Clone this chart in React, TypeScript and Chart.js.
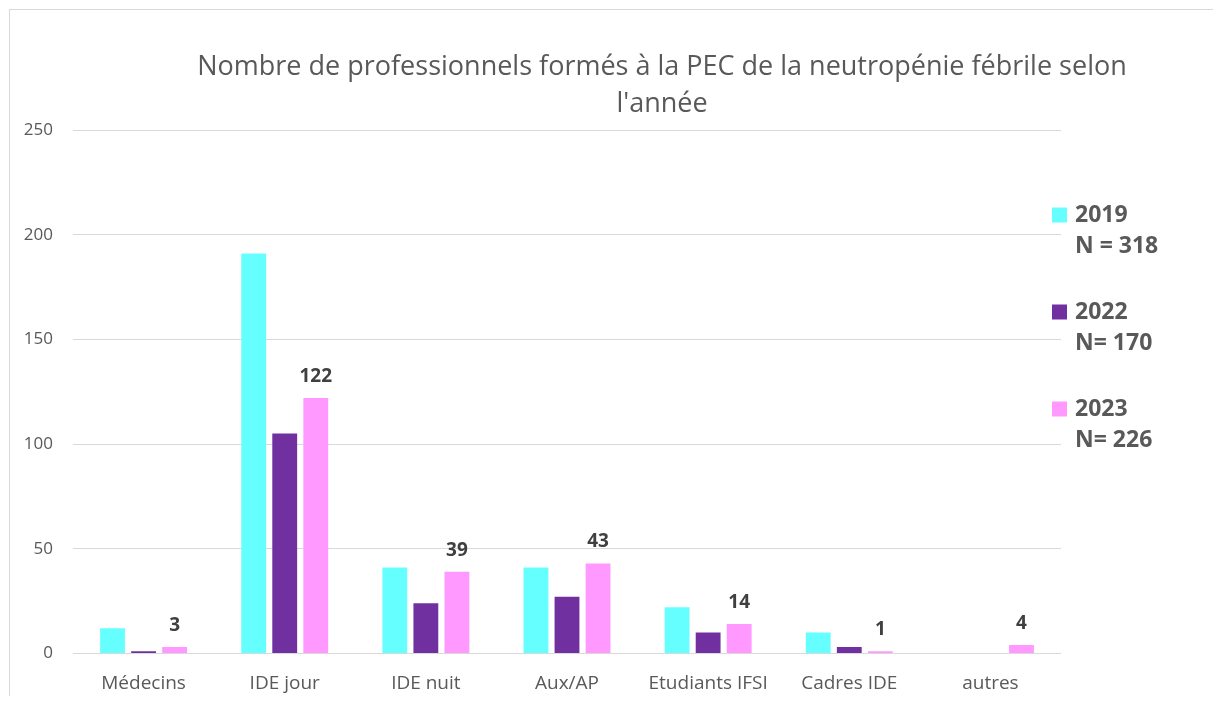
import React, { useEffect, useRef } from "react";
import { Chart, registerables } from "chart.js";

Chart.register(...registerables);

const titleLines = [
  "Nombre de professionnels formés à la PEC de la neutropénie fébrile selon",
  "l'année",
];
const categories = [
  "Médecins",
  "IDE jour",
  "IDE nuit",
  "Aux/AP",
  "Etudiants IFSI",
  "Cadres IDE",
  "autres",
];
const years = ["2019", "2022", "2023"];
const totals = ["N = 318", "N= 170", "N= 226"];
const values2019 = [12, 191, 41, 41, 22, 10, 0];
const values2022 = [1, 105, 24, 27, 10, 3, 0];
const values2023 = [3, 122, 39, 43, 14, 1, 4];
const yMin = 0;
const yMax = 250;
const yStep = 50;

const colors = ["#66FFFF", "#7030A0", "#FF99FF"];
const FONT = "'Open Sans', sans-serif";
const TEXT = "#595959";

const titlePlugin = {
  id: "customTitle",
  afterDraw(chart: any) {
    const ctx = chart.ctx;
    ctx.save();
    ctx.font = `27px ${FONT}`;
    ctx.fillStyle = TEXT;
    ctx.textAlign = "center";
    ctx.textBaseline = "middle";
    ctx.fillText(titleLines[0], 652, 57);
    ctx.fillText(titleLines[1], 652, 94);
    ctx.restore();
  },
};

const legendPlugin = {
  id: "customLegend",
  afterDraw(chart: any) {
    const ctx = chart.ctx;
    ctx.save();
    chart.data.datasets.forEach((ds: any, i: number) => {
      const cy = 205 + 97 * i;
      ctx.fillStyle = ds.backgroundColor;
      ctx.fillRect(1042, cy - 7.5, 15, 15);
      ctx.fillStyle = TEXT;
      ctx.font = `bold 23px ${FONT}`;
      ctx.textAlign = "left";
      ctx.textBaseline = "middle";
      ctx.fillText(ds.label, 1065, cy);
      ctx.fillText(totals[i], 1065, cy + 31.5);
    });
    ctx.restore();
  },
};

const valueLabelPlugin = {
  id: "valueLabels",
  afterDatasetsDraw(chart: any) {
    const ctx = chart.ctx;
    const meta = chart.getDatasetMeta(2);
    const data = chart.data.datasets[2].data;
    ctx.save();
    ctx.font = `bold 19px ${FONT}`;
    ctx.fillStyle = "#404040";
    ctx.textAlign = "center";
    ctx.textBaseline = "alphabetic";
    meta.data.forEach((el: any, i: number) => {
      ctx.fillText(String(data[i]), el.x, el.y - 16);
    });
    ctx.restore();
  },
};

export default function App() {
  const canvasRef = useRef<HTMLCanvasElement | null>(null);

  useEffect(() => {
    if (!canvasRef.current) return;
    const chart = new Chart(canvasRef.current, {
      type: "bar",
      data: {
        labels: categories,
        datasets: [
          { label: years[0], data: values2019, backgroundColor: colors[0] },
          { label: years[1], data: values2022, backgroundColor: colors[1] },
          { label: years[2], data: values2023, backgroundColor: colors[2] },
        ].map((d) => ({
          ...d,
          categoryPercentage: 0.66,
          barPercentage: 0.8,
          borderWidth: 0,
        })),
      },
      options: {
        animation: false,
        responsive: true,
        maintainAspectRatio: false,
        layout: { padding: { top: 120, right: 152, left: 0, bottom: 0 } },
        plugins: {
          legend: { display: false },
          title: { display: false },
          tooltip: { enabled: false },
        },
        scales: {
          x: {
            grid: { display: false, drawTicks: false },
            border: { display: false },
            ticks: {
              color: TEXT,
              font: { family: FONT, size: 19 },
              padding: 19,
              maxRotation: 0,
              autoSkip: false,
            },
            afterFit: (axis: any) => {
              axis.height = 42.6;
            },
          },
          y: {
            min: yMin,
            max: yMax,
            grid: { color: "#d9d9d9", lineWidth: 1, drawTicks: false },
            border: { display: false },
            ticks: {
              stepSize: yStep,
              color: TEXT,
              font: { family: FONT, size: 17 },
              padding: 20,
            },
            afterFit: (axis: any) => {
              axis.width = 63;
            },
          },
        },
      },
      plugins: [titlePlugin, legendPlugin, valueLabelPlugin],
    });
    return () => chart.destroy();
  }, []);

  return (
    <div style={{ paddingTop: 1, paddingLeft: 1, width: 1204, height: 687 }}>
      <div
        style={{
          borderTop: "1px solid #d9d9d9",
          borderLeft: "1px solid #d9d9d9",
          width: 1203,
          height: 686,
          position: "relative",
        }}
      >
        <canvas ref={canvasRef} />
      </div>
    </div>
  );
}
